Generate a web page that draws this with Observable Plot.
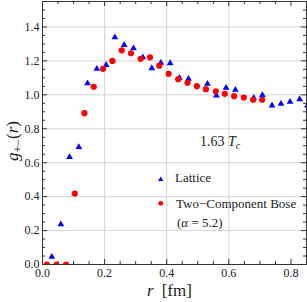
<!DOCTYPE html>
<html>
<head>
<meta charset="utf-8">
<script src="https://cdn.jsdelivr.net/npm/d3@7"></script>
<script src="https://cdn.jsdelivr.net/npm/@observablehq/plot@0.6"></script>
<style>
  html, body { margin: 0; padding: 0; background: white; }
  #chart { width: 307px; height: 302px; }
</style>
</head>
<body>
<div id="chart"></div>
<script>
// Lattice data (blue triangles)
const latticeR = [0.030, 0.059, 0.087, 0.117, 0.145, 0.175, 0.205, 0.233, 0.263, 0.293, 0.323, 0.352, 0.381, 0.411, 0.441, 0.470, 0.531, 0.560, 0.591, 0.621, 0.680, 0.708, 0.739, 0.768, 0.797, 0.828, 0.853];
const latticeG = [0.045, 0.237, 0.633, 0.692, 1.068, 1.153, 1.176, 1.339, 1.294, 1.274, 1.221, 1.157, 1.188, 1.186, 1.100, 1.094, 1.065, 0.996, 1.041, 1.029, 0.982, 0.998, 0.937, 0.947, 0.959, 0.974, 0.937];
// Two-Component Bose (red circles)
const boseR = [0.014, 0.045, 0.076, 0.104, 0.135, 0.165, 0.195, 0.225, 0.255, 0.285, 0.316, 0.346, 0.376, 0.406, 0.437, 0.467, 0.497, 0.526, 0.558, 0.587, 0.617, 0.648, 0.678, 0.707];
const boseG = [0, 0, 0, 0.418, 0.892, 1.047, 1.153, 1.200, 1.262, 1.245, 1.212, 1.221, 1.172, 1.124, 1.092, 1.071, 1.051, 1.033, 1.021, 1.006, 0.992, 0.984, 0.971, 0.971];
// Ticks
const xMajor = [0, 0.2, 0.4, 0.6, 0.8];
const xMinor = [0.05, 0.1, 0.15, 0.25, 0.3, 0.35, 0.45, 0.5, 0.55, 0.65, 0.7, 0.75, 0.85];
const yMajor = [0, 0.2, 0.4, 0.6, 0.8, 1.0, 1.2, 1.4];
const yMinor = [0.05, 0.1, 0.15, 0.25, 0.3, 0.35, 0.45, 0.5, 0.55, 0.65, 0.7, 0.75, 0.85, 0.9, 0.95, 1.05, 1.1, 1.15, 1.25, 1.3, 1.35, 1.45, 1.5, 1.55];
const xGrid = [0.2, 0.4, 0.6];
const yGrid = [0.2, 0.4, 0.6, 0.8, 1.0, 1.2, 1.4];

const lattice = latticeR.map((r, i) => ({r, g: latticeG[i]}));
const bose = boseR.map((r, i) => ({r, g: boseG[i]}));

const W = 307, H = 302, mL = 42, mR = 1, mT = 1, mB = 38;
const innerH = H - mT - mB, innerW = W - mL - mR;
const fmt = d => d.toFixed(1);
const tickColor = "#333";

const plot = Plot.plot({
  width: W, height: H,
  marginLeft: mL, marginRight: mR, marginTop: mT, marginBottom: mB,
  x: {domain: [0, 0.85]},
  y: {domain: [0, 1.55]},
  style: {fontFamily: "'Liberation Serif', 'Times New Roman', serif", fontSize: "12px", color: "#222", background: "white"},
  marks: [
    Plot.gridX(xGrid, {stroke: "#d4d4d4", strokeOpacity: 1}),
    Plot.gridY(yGrid, {stroke: "#d4d4d4", strokeOpacity: 1}),
    // bottom & top ticks (inward)
    Plot.tickX(xMajor, {x: d => d, insetTop: innerH - 5, stroke: tickColor}),
    Plot.tickX(xMinor, {x: d => d, insetTop: innerH - 3, stroke: tickColor}),
    Plot.tickX(xMajor, {x: d => d, insetBottom: innerH - 5, stroke: tickColor}),
    Plot.tickX(xMinor, {x: d => d, insetBottom: innerH - 3, stroke: tickColor}),
    // left & right ticks (inward)
    Plot.tickY(yMajor, {y: d => d, insetRight: innerW - 5, stroke: tickColor}),
    Plot.tickY(yMinor, {y: d => d, insetRight: innerW - 3, stroke: tickColor}),
    Plot.tickY(yMajor, {y: d => d, insetLeft: innerW - 5, stroke: tickColor}),
    Plot.tickY(yMinor, {y: d => d, insetLeft: innerW - 3, stroke: tickColor}),
    Plot.axisX(xMajor, {tickSize: 0, tickPadding: 4, tickFormat: fmt, label: null, fontSize: 12, fill: "#222"}),
    Plot.axisY(yMajor, {tickSize: 0, tickPadding: 3, tickFormat: fmt, label: null, fontSize: 12, fill: "#222"}),
    Plot.dot(lattice, {x: "r", y: "g", symbol: "triangle", r: 2.5, fill: "#0000ff", stroke: "none", clip: true}),
    Plot.dot(bose, {x: "r", y: "g", r: 3.1, fill: "#ff0000", stroke: "none", clip: true}),
    Plot.frame({stroke: "#333", strokeWidth: 1})
  ]
});

document.getElementById("chart").appendChild(plot);

const svg = d3.select(plot);
const font = "'Liberation Serif', 'Times New Roman', serif";
const g = svg.append("g").attr("text-anchor", "start").attr("font-family", font).attr("fill", "#222");

// Annotation 1.63 Tc
const t1 = g.append("text").attr("x", 200).attr("y", 146).attr("font-size", 14);
t1.append("tspan").text("1.63 ");
t1.append("tspan").attr("font-style", "italic").text("T");
t1.append("tspan").attr("font-size", 10).attr("dy", 3).attr("font-style", "italic").text("c");

// Legend
g.append("path").attr("d", d3.symbol(d3.symbolTriangle, 12)()).attr("transform", "translate(160.7,179.5)").attr("fill", "#0000ff");
g.append("circle").attr("cx", 160.7).attr("cy", 203.3).attr("r", 2.4).attr("fill", "#ff0000");
g.append("text").attr("x", 175).attr("y", 182).attr("font-size", 13).text("Lattice");
g.append("text").attr("x", 176).attr("y", 208).attr("font-size", 13).text("Two\u2212Component Bose");
const t2 = g.append("text").attr("x", 177).attr("y", 227).attr("font-size", 13);
t2.append("tspan").text("(");
t2.append("tspan").attr("font-style", "italic").text("\u03b1");
t2.append("tspan").text(" = 5.2)");

// x axis label
const xl = g.append("text").attr("x", 147).attr("y", 296).attr("font-size", 17);
xl.append("tspan").attr("font-style", "italic").text("r");
xl.append("tspan").attr("dx", 8).text("[fm]");

// y axis label
const yl = g.append("text").attr("transform", "translate(18,141) rotate(-90)").attr("text-anchor", "middle").attr("font-size", 17);
yl.append("tspan").attr("font-style", "italic").text("g");
yl.append("tspan").attr("font-size", 12).attr("dy", 4).text("+\u2212");
yl.append("tspan").attr("dy", -4).text("(");
yl.append("tspan").attr("font-style", "italic").text("r");
yl.append("tspan").text(")");
</script>
</body>
</html>
